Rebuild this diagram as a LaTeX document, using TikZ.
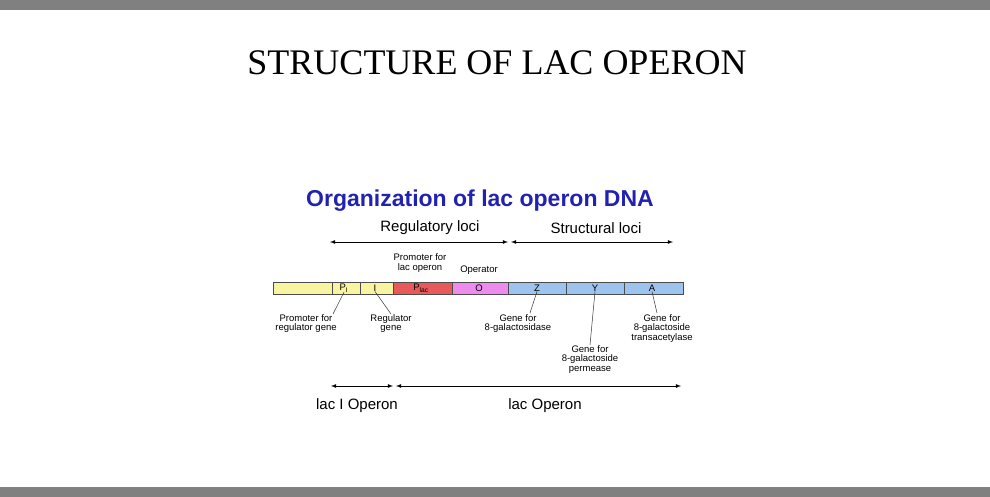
\documentclass[tikz,border=0pt]{standalone}
\usepackage{fontspec}
\setmainfont{Liberation Serif}
\newfontfamily\labfont{Liberation Sans}
\definecolor{barblue}{HTML}{9CC4EE}
\definecolor{barpink}{HTML}{EE8CEE}
\definecolor{baryellow}{HTML}{F8F4A0}
\definecolor{barred}{HTML}{E85A5A}
\definecolor{headblue}{HTML}{2222B0}
\begin{document}
\begin{tikzpicture}
  [x=1pt,y=-1pt,
   seg/.style={draw=black!70,line width=.6pt},
   lab/.style={font=\labfont\fontsize{9.5}{9.5}\selectfont,align=center,inner sep=0pt},
   loci/.style={font=\labfont\fontsize{15}{16}\selectfont,inner sep=0pt},
   span/.style={<->,>=latex,line width=.8pt},
   ptr/.style={draw=black!80,line width=.5pt}]
  \useasboundingbox (0,0) rectangle (990,497);
  \fill[black!50] (0,0) rectangle (990,10);
  \fill[black!50] (0,487) rectangle (990,497);
  \node (title) at (497,63) {\fontsize{36}{40}\selectfont STRUCTURE OF LAC OPERON};
  \node[font=\labfont\bfseries\fontsize{23}{25}\selectfont,text=headblue] (head) at (480,201) {Organization of lac operon DNA};
  \node[loci] (reg) at (430,228) {Regulatory loci};
  \node[loci] (str) at (596,228) {Structural loci};
  \coordinate (r1) at (330,242); \coordinate (r2) at (508,242);
  \coordinate (s1) at (511,242); \coordinate (s2) at (673,242);
  \draw[span] (r1) -- (r2);
  \draw[span] (s1) -- (s2);

  % the DNA bar
  \fill[baryellow] (273,282) rectangle (393,294);
  \fill[barred] (393,282) rectangle (452,294);
  \fill[barpink] (452,282) rectangle (508,294);
  \fill[barblue] (508,282) rectangle (683,294);
  \foreach \x in {332,360,393,452,508,566,624}
    \draw[seg] (\x,282) -- (\x,294);
  \draw[seg] (273,282) rectangle (683,294);
  \node[lab] (p1) at (344,288) {P\textsubscript{I}};
  \node[lab] (i) at (375,288) {I};
  \node[lab] (plac) at (421,288) {P\textsubscript{lac}};
  \node[lab] (o) at (479,288) {O};
  \node[lab] (z) at (537,288) {Z};
  \node[lab] (y) at (595,288) {Y};
  \node[lab] (a) at (652,288) {A};

  \node[lab] (plab) at (420,263) {Promoter for\\lac operon};
  \node[lab] (olab) at (479,270) {Operator};
  \node[lab,anchor=north] (p1lab) at (306,314) {Promoter for\\regulator gene};
  \node[lab,anchor=north] (ilab) at (391,314) {Regulator\\gene};
  \node[lab,anchor=north] (zlab) at (518,314) {Gene for\\8-galactosidase};
  \node[lab,anchor=north] (ylab) at (590,345) {Gene for\\8-galactoside\\permease};
  \node[lab,anchor=north] (alab) at (662,314) {Gene for\\8-galactoside\\transacetylase};
  \draw[ptr] (p1.south) -- (p1lab.north -| 333,0);
  \draw[ptr] (i.south) -- (ilab.north);
  \draw[ptr] (z.south) -- (530,313);
  \draw[ptr] (y.south) -- (ylab.north);
  \draw[ptr] (a.south) -- (657,313);

  \coordinate (l1) at (331,386); \coordinate (l2) at (393,386);
  \coordinate (m1) at (396,386); \coordinate (m2) at (681,386);
  \draw[span] (l1) -- (l2);
  \draw[span] (m1) -- (m2);
  \node[loci] (lacI) at (357,406) {lac I Operon};
  \node[loci] (lac) at (545,406) {lac Operon};
\end{tikzpicture}
\end{document}
